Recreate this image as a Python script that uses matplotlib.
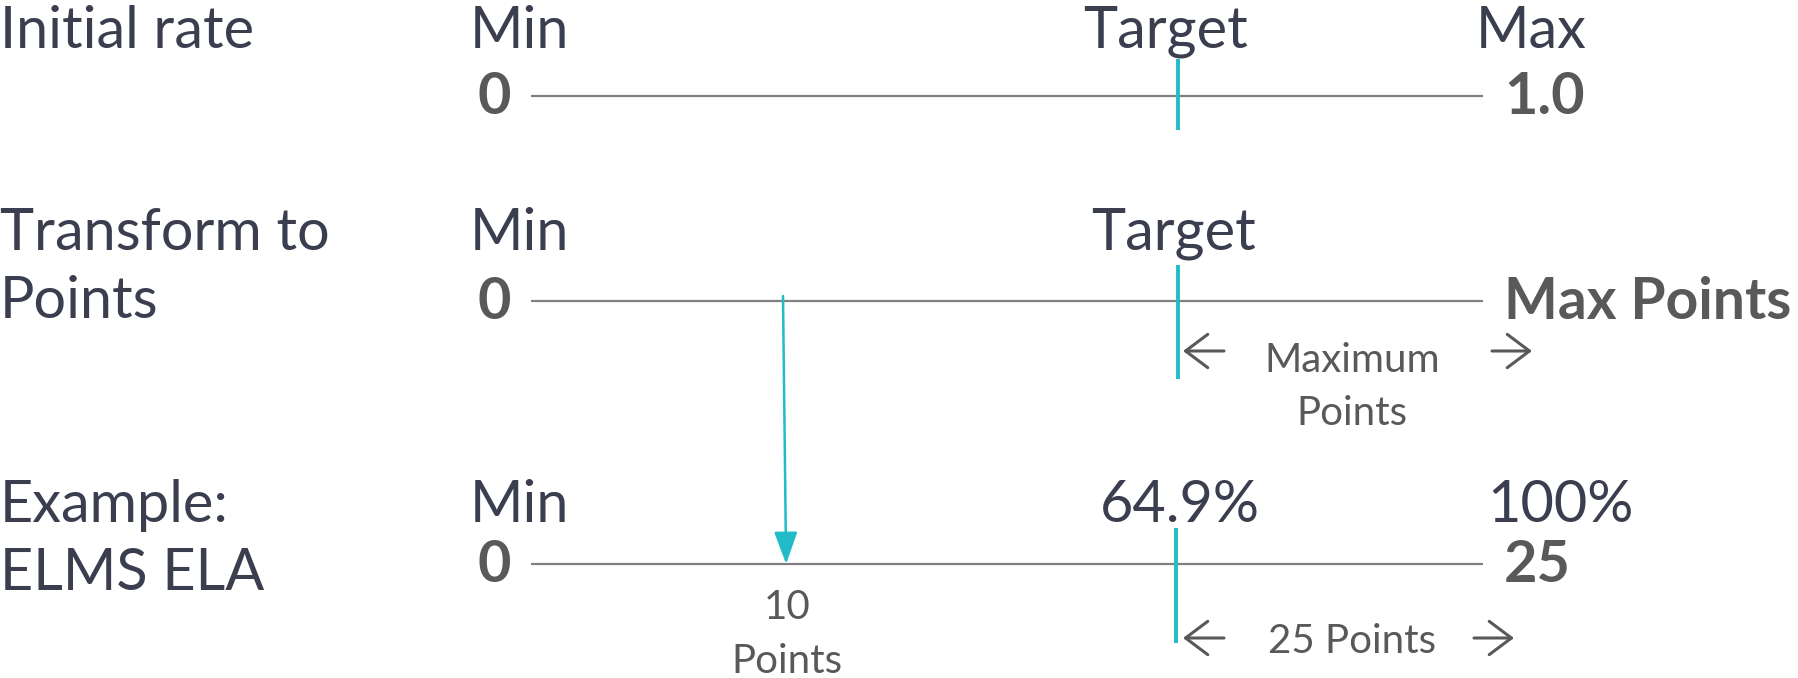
import matplotlib.pyplot as plt

# schematic scale data (scale runs 0..1 from Min to Max)
row_titles = [["Initial rate"], ["Transform to", "Points"], ["Example:", "ELMS ELA"]]
min_labels = ["Min", "Min", "Min"]
target_labels = ["Target", "Target", "64.9%"]
max_labels = ["Max", "", "100%"]
start_values = ["0", "0", "0"]
end_values = ["1.0", "Max Points", "25"]
target_pos = [0.68, 0.68, 0.678]
span_labels = [[], ["Maximum", "Points"], ["25 Points"]]
example_points = ["10", "Points"]
example_pos = [0.2647, 0.268]   # arrow top (row 2) and bottom (row 3)

# layout (pixels)
W, H = 1799, 678
LINE_X0, LINE_X1 = 531, 1483
line_y = [96, 301, 564]
label_base = [48, 250, 522]
target_label_shift = [-0.013, -0.005, 0.004]
max_label_x = [1531, 1531, 1560]
tick_up = [37, 36, 36]
tick_down = [34, 78, 79]
span_base = [0, 372, 653]
span_arrow_y = [0, 351, 638]
span_right = [0, 1532, 1514]
LINE_GAP = 68
SMALL_GAP = 53

TITLE_C = "#3b3e4e"
NUM_C = "#595959"
LINE_C = "#808080"
TEAL = "#21bcc8"
FONT = ["Lato", "DejaVu Sans"]
BIG = 41.5
SMALL = 29

span = LINE_X1 - LINE_X0
fig = plt.figure(figsize=(W / 100, H / 100), dpi=100)
ax = fig.add_axes([0, 0, 1, 1])
ax.set_xlim(-LINE_X0 / span, (W - LINE_X0) / span)
ax.set_ylim(H, 0)
ax.axis("off")


def sx(px):
    return (px - LINE_X0) / span


def side_arrow(x_from, x_to, y):
    ax.annotate("", xy=(sx(x_to), y), xytext=(sx(x_from), y),
                arrowprops=dict(arrowstyle="->,head_length=1.0,head_width=0.75",
                                color=NUM_C, lw=2.2, mutation_scale=16,
                                shrinkA=0, shrinkB=0))


for i in range(3):
    y = line_y[i]
    ax.plot([0, 1], [y, y], color=LINE_C, lw=1.6, solid_capstyle="butt")
    ax.plot([target_pos[i], target_pos[i]], [y - tick_up[i], y + tick_down[i]],
            color=TEAL, lw=2.8, solid_capstyle="butt")

    for k, line in enumerate(row_titles[i]):
        ax.text(sx(0), label_base[i] + k * LINE_GAP, line, ha="left", va="baseline",
                fontsize=BIG, color=TITLE_C, family=FONT)
    ax.text(sx(519), label_base[i], min_labels[i], ha="center", va="baseline",
            fontsize=BIG, color=TITLE_C, family=FONT)
    ax.text(target_pos[i] + target_label_shift[i], label_base[i], target_labels[i],
            ha="center", va="baseline", fontsize=BIG, color=TITLE_C, family=FONT)
    if max_labels[i]:
        ax.text(sx(max_label_x[i]), label_base[i], max_labels[i], ha="center", va="baseline",
                fontsize=BIG, color=TITLE_C, family=FONT)

    ax.text(sx(494), y + 18, start_values[i], ha="center", va="baseline",
            fontsize=BIG, fontweight="bold", color=NUM_C, family=FONT)
    ax.text(sx(1504), y + 18, end_values[i], ha="left", va="baseline",
            fontsize=BIG if i != 1 else 41, fontweight="bold", color=NUM_C, family=FONT)

    if span_labels[i]:
        for k, line in enumerate(span_labels[i]):
            ax.text(sx(1352), span_base[i] + k * SMALL_GAP, line, ha="center", va="baseline",
                    fontsize=SMALL, color=NUM_C, family=FONT)
        side_arrow(1224, 1183, span_arrow_y[i])
        side_arrow(span_right[i] - 40, span_right[i], span_arrow_y[i])

# teal arrow carrying the example value down to the example scale
ax.annotate("", xy=(example_pos[1], line_y[2]), xytext=(example_pos[0], line_y[1] - 5),
            arrowprops=dict(arrowstyle="-|>,head_length=1.1,head_width=0.4",
                            color=TEAL, lw=1.8, mutation_scale=18, shrinkA=0, shrinkB=0))
for k, line in enumerate(example_points):
    ax.text(sx(787), 619 + k * 54, line, ha="center", va="baseline",
            fontsize=SMALL, color=NUM_C, family=FONT)

fig.savefig("out.png", dpi=100)
